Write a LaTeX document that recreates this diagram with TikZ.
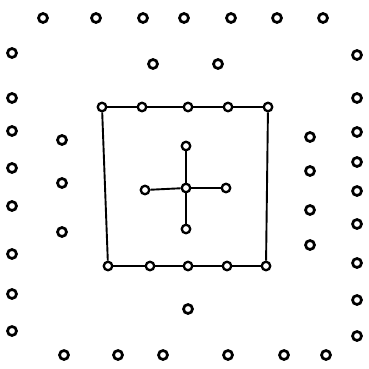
\documentclass[tikz,border=0pt]{standalone}
\begin{document}
\begin{tikzpicture}[x=1pt, y=-1pt,
    dot/.style={circle, draw, line width=2.7pt, minimum size=9pt, inner sep=0pt, fill=white},
    pin/.style={circle, draw, line width=2.3pt, minimum size=8.5pt, inner sep=0pt, fill=white},
    wire/.style={line width=1.9pt}]
    \useasboundingbox (0,0) rectangle (368,369);

    % Outer ring: top and bottom rows
    \foreach \x [count=\i] in {43,96,143,184,231,277,323}
        \node[dot] (top\i) at (\x,18) {};
    \foreach \x [count=\i] in {64,118,163,228,284,326}
        \node[dot] (bot\i) at (\x,355) {};

    % Outer ring: left and right columns
    \foreach \y [count=\i] in {53,98,131,168,206,254,294,331}
        \node[dot] (left\i) at (12,\y) {};
    \foreach \y [count=\i] in {55,98,132,162,191,224,263,300,336}
        \node[dot] (right\i) at (357,\y) {};

    % Inner loose dots
    \node[dot] (upA) at (153,64) {};
    \node[dot] (upB) at (218,64) {};
    \foreach \y [count=\i] in {140,183,232}
        \node[dot] (inL\i) at (62,\y) {};
    \foreach \y [count=\i] in {137,171,210,245}
        \node[dot] (inR\i) at (310,\y) {};
    \node[dot] (low) at (188,309) {};

    % Square frame with its pins
    \foreach \x [count=\i] in {102,142,188,228,268}
        \node[pin] (sq\i) at (\x,107) {};
    \foreach \x [count=\i] in {108,150,188,227,266}
        \node[pin] (sb\i) at (\x,266) {};
    \draw[wire] (sq1) -- (sq2) -- (sq3) -- (sq4) -- (sq5);
    \draw[wire] (sb1) -- (sb2) -- (sb3) -- (sb4) -- (sb5);
    \draw[wire] (sq1) -- (sb1);
    \draw[wire] (sq5) -- (sb5);

    % Cross in the middle
    \node[pin] (hub) at (186,188) {};
    \node[pin] (armN) at (186,146) {};
    \node[pin] (armS) at (186,229) {};
    \node[pin] (armW) at (145,190) {};
    \node[pin] (armE) at (226,188) {};
    \draw[wire] (hub) -- (armN);
    \draw[wire] (hub) -- (armS);
    \draw[wire] (hub) -- (armW);
    \draw[wire] (hub) -- (armE);
\end{tikzpicture}
\end{document}
